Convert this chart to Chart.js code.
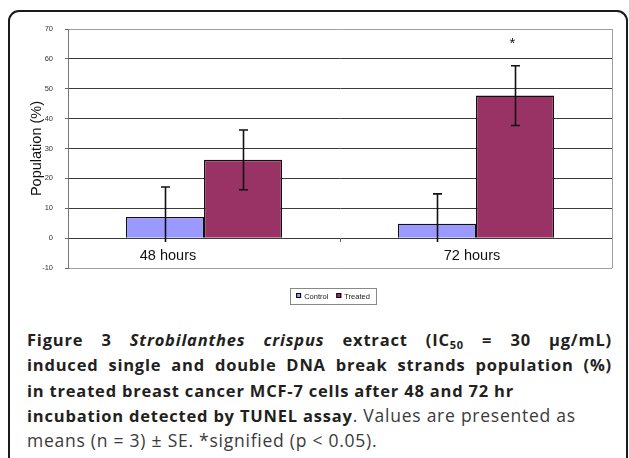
<!DOCTYPE html>
<html>
<head>
<meta charset="utf-8">
<script src="https://cdn.jsdelivr.net/npm/chart.js@4.4.0/dist/chart.umd.min.js"></script>
<style>
  body { margin: 0; background: #fff; width: 629px; height: 458px; overflow: hidden; position: relative; }
  #frame { position: absolute; left: 8px; top: 10px; width: 616px; height: 520px; border: 2px solid #1a1a1a; border-radius: 11px; }
  #wrap { position: absolute; left: 0; top: 0; width: 629px; height: 312px; }
  #cap { position: absolute; left: 27px; top: 327px; width: 585px; font-family: "Open Sans", "Noto Sans", sans-serif; font-size: 16.5px; line-height: 25.3px; color: #231f20; letter-spacing: 0.8px; }
  #cap div { white-space: nowrap; }
  #cap b { font-weight: 700; }
  #cap .j { text-align: justify; text-align-last: justify; white-space: normal; }
  #cap .n { color: #3a3a3a; font-weight: 400; font-size: 17.5px; letter-spacing: 0.75px; }
  #cap sub { font-size: 11px; line-height: 0; vertical-align: -3px; }
</style>
</head>
<body>
<div id="frame"></div>
<div id="wrap"><canvas id="chart"></canvas></div>
<div id="cap">
  <div class="j"><b>Figure 3 <i>Strobilanthes crispus</i> extract (IC<sub>50</sub> = 30 μg/mL)</b></div>
  <div class="j"><b>induced single and double DNA break strands population (%)</b></div>
  <div><b>in treated breast cancer MCF-7 cells after 48 and 72 hr</b></div>
  <div><b>incubation detected by TUNEL assay</b><span class="n">. Values are presented as</span></div>
  <div class="n">means (n = 3) ± SE. *signified (p &lt; 0.05).</div>
</div>
<script>
// data
var categories = ["48 hours", "72 hours"];
var controlMean = [7.1, 4.8];
var treatedMean = [26.2, 47.7];
var controlSE = [10, 10];
var treatedSE = [10, 10];
var treatedMarks = ["", "*"];
var yMin = -10, yMax = 70, yStep = 10;

// styles
var labelShift = [-36, -4];   // excel had the category labels nudged
var whiskerFloor = -1.3;      // lower whiskers cut off just under the axis
var axisFont = "Liberation Sans, Arial, sans-serif";

var extras = {
  id: "extras",
  beforeDatasetsDraw: function (chart) {
    var ctx = chart.ctx, a = chart.chartArea;
    ctx.save();
    ctx.strokeStyle = "#a0a0a0";
    ctx.lineWidth = 1;
    ctx.beginPath();
    ctx.moveTo(Math.round(a.right) + 0.5, a.top);
    ctx.lineTo(Math.round(a.right) + 0.5, a.bottom);
    ctx.stroke();
    // small tick between the categories, on the zero line
    var x = chart.scales.x, y0 = chart.scales.y.getPixelForValue(0);
    ctx.strokeStyle = "#666";
    for (var i = 1; i < categories.length; i++) {
      var xm = Math.round((x.getPixelForValue(i - 1) + x.getPixelForValue(i)) / 2) + 0.5;
      ctx.beginPath();
      ctx.moveTo(xm, y0);
      ctx.lineTo(xm, y0 + 4);
      ctx.stroke();
    }
    ctx.restore();
  },
  afterDatasetsDraw: function (chart) {
    var ctx = chart.ctx, y = chart.scales.y;
    var errs = [controlSE, treatedSE];
    var marks = [[], treatedMarks];
    ctx.save();
    ctx.strokeStyle = "#111";
    ctx.fillStyle = "#111";
    ctx.lineWidth = 1.6;
    chart.data.datasets.forEach(function (ds, i) {
      chart.getDatasetMeta(i).data.forEach(function (bar, j) {
        var v = ds.data[j], e = errs[i][j];
        var top = y.getPixelForValue(v + e);
        var low = v - e;
        var bot = y.getPixelForValue(Math.max(low, whiskerFloor));
        var bx = Math.round(bar.x) + 0.5;
        ctx.beginPath();
        ctx.moveTo(bx, top);
        ctx.lineTo(bx, bot);
        ctx.moveTo(bx - 4.5, top);
        ctx.lineTo(bx + 4.5, top);
        if (low >= whiskerFloor) {
          ctx.moveTo(bx - 4.5, bot);
          ctx.lineTo(bx + 4.5, bot);
        }
        ctx.stroke();
        if (marks[i][j]) {
          ctx.font = "15px " + axisFont;
          ctx.textAlign = "center";
          ctx.textBaseline = "middle";
          ctx.fillText(marks[i][j], bx - 3, top - 22);
        }
      });
    });
    ctx.restore();
  },
  afterDraw: function (chart) {
    var ctx = chart.ctx, x = chart.scales.x, y = chart.scales.y;
    ctx.save();
    // category labels
    ctx.font = "14.5px " + axisFont;
    ctx.fillStyle = "#111";
    ctx.textAlign = "center";
    ctx.textBaseline = "middle";
    categories.forEach(function (c, i) {
      ctx.fillText(c, x.getPixelForValue(i) + labelShift[i], y.getPixelForValue(0) + 18);
    });
    // legend with border
    var cx = 333, cy = 296;
    ctx.font = "7.5px " + axisFont;
    ctx.textAlign = "left";
    var items = chart.data.datasets.map(function (ds) {
      return { label: ds.label, color: ds.backgroundColor, w: ctx.measureText(ds.label).width };
    });
    var gap = 8, box = 5, tgap = 3;
    var total = 0;
    items.forEach(function (it, k) { total += box + tgap + it.w + (k ? gap : 0); });
    var lx = cx - total / 2;
    ctx.strokeStyle = "#888";
    ctx.lineWidth = 1;
    ctx.strokeRect(Math.round(lx - 6) + 0.5, Math.round(cy - 8) + 0.5, Math.round(total + 12), 16);
    items.forEach(function (it) {
      ctx.fillStyle = it.color;
      ctx.fillRect(lx, cy - 3, box, box);
      ctx.strokeStyle = "#000";
      ctx.strokeRect(lx + 0.5, cy - 2.5, box - 1, box - 1);
      ctx.fillStyle = "#222";
      ctx.fillText(it.label, lx + box + tgap, cy + 0.5);
      lx += box + tgap + it.w + gap;
    });
    ctx.restore();
  }
};

var ctx = document.getElementById("chart").getContext("2d");
var myChart = new Chart(ctx, {
  type: "bar",
  data: {
    labels: categories,
    datasets: [
      {
        label: "Control",
        backgroundColor: "#9999ff",
        borderColor: "#111",
        borderWidth: 1.3,
        categoryPercentage: 0.574,
        barPercentage: 1,
        data: controlMean,
      },
      {
        label: "Treated",
        backgroundColor: "#993366",
        borderColor: "#111",
        borderWidth: 1.3,
        categoryPercentage: 0.574,
        barPercentage: 1,
        data: treatedMean,
      },
    ],
  },
  options: {
    responsive: true,
    maintainAspectRatio: false,
    animation: false,
    layout: { padding: { left: 0, right: 17, top: 29, bottom: 44 } },
    plugins: {
      legend: { display: false },
      tooltip: { enabled: false },
    },
    scales: {
      x: {
        display: false,
      },
      y: {
        min: yMin,
        max: yMax,
        ticks: {
          stepSize: yStep,
          padding: 12,
          color: "#333",
          font: { family: axisFont, size: 7.5 },
        },
        grid: {
          color: function (c) {
            return c.tick && (c.tick.value === yMin || c.tick.value === yMax) ? "#a0a0a0" : "#3a3a3a";
          },
          tickColor: "#666",
          tickLength: 3,
          lineWidth: 1,
        },
        border: { color: "#777", width: 1 },
        title: {
          display: true,
          text: "Population (%)",
          color: "#111",
          font: { family: axisFont, size: 14.5 },
          padding: { top: 28, bottom: 0 },
        },
        afterFit: function (scale) { scale.width = 68; },
      },
    },
  },
  plugins: [extras],
});
</script>
</body>
</html>
